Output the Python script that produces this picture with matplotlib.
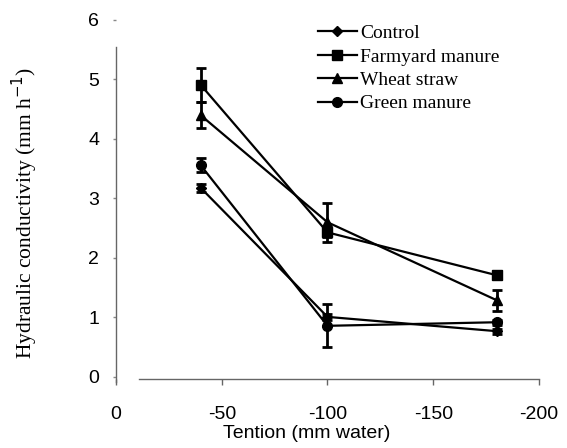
import matplotlib
matplotlib.use("Agg")
import matplotlib.pyplot as plt
from matplotlib.lines import Line2D

tension = [-40, -100, -180]
control = [3.18, 1.01, 0.77]
farmyard = [4.91, 2.43, 1.71]
wheat = [4.40, 2.60, 1.29]
green = [3.56, 0.86, 0.92]
control_err = [0.07, 0.05, 0.04]
farmyard_err = [0.29, 0.08, 0.07]
wheat_err = [0.22, 0.33, 0.18]
green_err = [0.12, 0.36, 0.04]

series = [
    ("Control", control, control_err, "D", 5),
    ("Farmyard manure", farmyard, farmyard_err, "s", 7),
    ("Wheat straw", wheat, wheat_err, "^", 7),
    ("Green manure", green, green_err, "o", 7),
]

fig = plt.figure(figsize=(5.67, 4.48), dpi=100)
ax = fig.add_axes([0.2046, 0.1585, 0.746, 0.797])

for name, vals, errs, mk, ms in series:
    ax.errorbar(tension, vals, yerr=errs, color="black", lw=1.6, marker=mk,
                markersize=ms, capsize=3.5, elinewidth=2.0, capthick=2.0,
                label=name)

ax.set_xlim(0, -200)
ax.set_ylim(0, 6)
ax.set_xticks([0, -50, -100, -150, -200])
ax.set_xticklabels(["0", "-50", "-100", "-150", "-200"])
ax.set_yticks([0, 1, 2, 3, 4, 5, 6])

for s in ["top", "right"]:
    ax.spines[s].set_visible(False)
ax.spines["left"].set_bounds(-0.08, 5.55)
ax.spines["bottom"].set_bounds(-11, -200)
ax.spines["bottom"].set_position(("data", -0.04))
for s in ["left", "bottom"]:
    ax.spines[s].set_color("#666666")
    ax.spines[s].set_linewidth(1.0)

ax.tick_params(axis="x", length=4, width=1, color="#666666", pad=15,
               labelsize=14)
ax.tick_params(axis="y", length=2, width=1, color="#888888", pad=10,
               labelsize=14)
for lab in ax.get_xticklabels() + ax.get_yticklabels():
    lab.set_family("Liberation Sans")

ax.set_xlabel("Tention (mm water)", family="Liberation Sans", fontsize=14,
              labelpad=0)
ax.xaxis.set_label_coords(0.45, -0.135)
ax.set_ylabel("Hydraulic conductivity (mm h$^{-1}$)", family="Liberation Serif",
              fontsize=15.5)
ax.yaxis.set_label_coords(-0.18, 0.46)

handles = [Line2D([0], [0], color="black", lw=1.6, marker=mk, markersize=ms)
           for _, _, _, mk, ms in series]
leg = ax.legend(handles, [s[0] for s in series], loc="upper left",
                bbox_to_anchor=(0.45, 1.02), frameon=False,
                prop={"family": "Liberation Serif", "size": 14},
                handlelength=2.0, handletextpad=0.15, labelspacing=0.3,
                borderaxespad=0.2)

fig.savefig("out.png", dpi=100)
